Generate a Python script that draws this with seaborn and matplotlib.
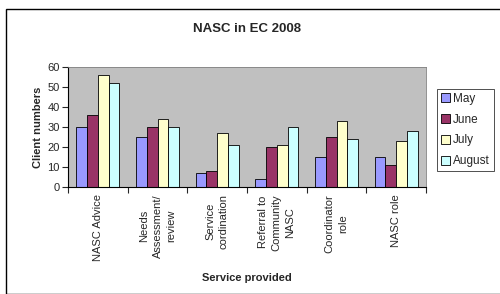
import numpy as np
import pandas as pd
import seaborn as sns
from matplotlib import pyplot as plt
from matplotlib.patches import Rectangle

services = ["NASC Advice", "Needs\nAssessment/\nreview", "Service\ncordination",
            "Referral to\nCommunity\nNASC", "Coordinator\nrole", "NASC role"]
months = ["May", "June", "July", "August"]
may = [30, 25, 7, 4, 15, 15]
june = [36, 30, 8, 20, 25, 11]
july = [56, 34, 27, 21, 33, 23]
august = [52, 30, 21, 30, 24, 28]
month_colors = ["#9999FF", "#993366", "#FFFFCC", "#CCFFFF"]

df = pd.DataFrame({"May": may, "June": june, "July": july, "August": august}, index=services)
long = df.reset_index(names="service").melt(id_vars="service", var_name="month", value_name="clients")

sns.set_style("white")
plt.rcParams["font.family"] = ["Liberation Sans", "DejaVu Sans"]

fig = plt.figure(figsize=(5, 2.94), dpi=100)
ax = fig.add_axes([0.136, 0.364, 0.716, 0.408])
sns.barplot(data=long, x="service", y="clients", hue="month", hue_order=months,
            palette=month_colors, width=0.72, gap=0, edgecolor="black", linewidth=0.6,
            saturation=1, ax=ax)

ax.set_facecolor("#C0C0C0")
ax.set_ylim(0, 60)
ax.set_yticks(range(0, 61, 10))
ax.set_xlim(-0.5, len(services) - 0.5)
ax.set_xticks(np.arange(len(services)))
ax.set_xticklabels(services, rotation=90, fontsize=8, linespacing=1.45, va="top", ha="center")
ax.set_xticks(np.arange(len(services) + 1) - 0.5, minor=True)
ax.tick_params(axis="x", which="major", length=0, pad=5)
ax.tick_params(axis="x", which="minor", length=4, width=0.8, direction="out", bottom=True)
ax.tick_params(axis="y", length=4, width=0.8, direction="out", left=True, labelsize=8, pad=2)
for s in ["top", "right"]:
    ax.spines[s].set_color("#808080")
    ax.spines[s].set_linewidth(0.6)
ax.spines["left"].set_linewidth(0.8)
ax.spines["bottom"].set_linewidth(0.8)
ax.spines["left"].set_color("black")
ax.spines["bottom"].set_color("black")

ax.set_xlabel("Service provided", fontsize=8, fontweight="bold", labelpad=9)
ax.set_ylabel("Client numbers", fontsize=8, fontweight="bold", labelpad=3)
ax.set_title("NASC in EC 2008", fontsize=9.5, fontweight="bold", pad=25)

leg = ax.legend(loc="upper left", bbox_to_anchor=(1.03, 0.82), frameon=True, fancybox=False,
                fontsize=8.5, handlelength=0.8, handleheight=0.8, handletextpad=0.2,
                borderpad=0.35, labelspacing=0.75, borderaxespad=0)
leg.get_frame().set_edgecolor("black")
leg.get_frame().set_linewidth(0.6)

fig.patches.append(Rectangle((0.012, 0.0), 0.99, 0.97, transform=fig.transFigure,
                             fill=False, edgecolor="black", linewidth=1.0))

fig.savefig("out.png", dpi=100)
